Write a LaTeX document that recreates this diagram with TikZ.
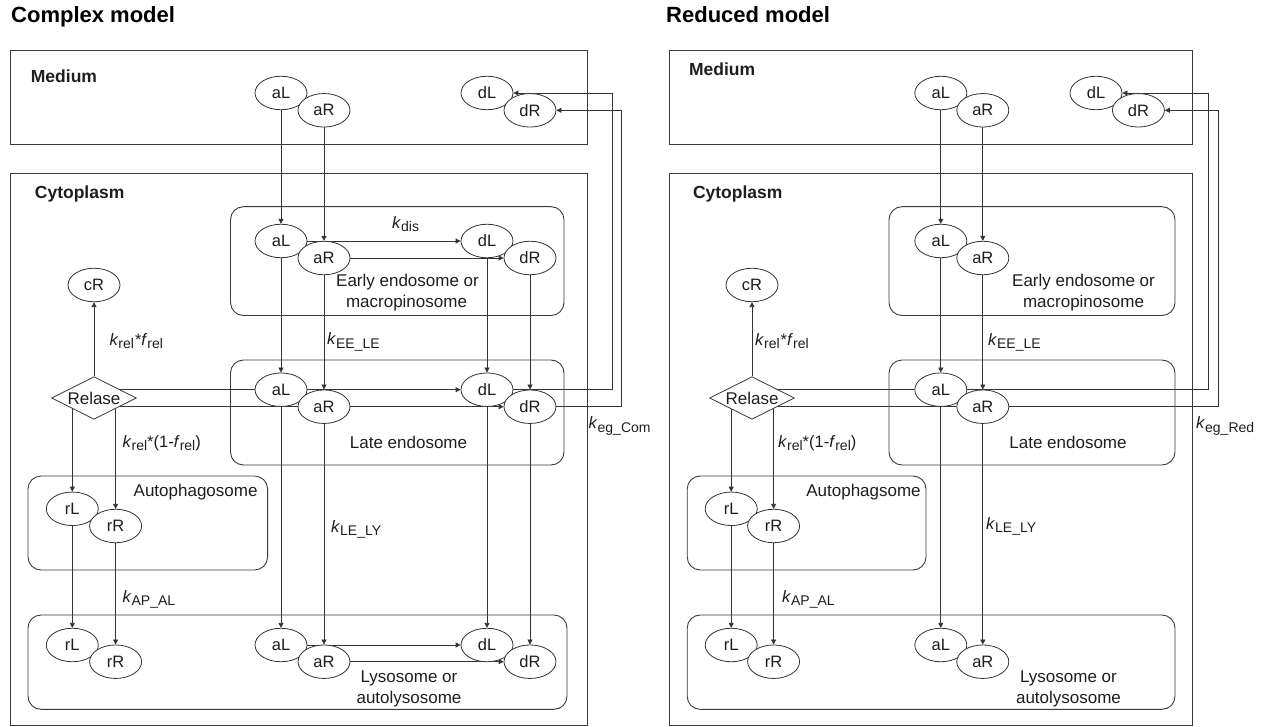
\documentclass[tikz,border=0pt]{standalone}
\usepackage{fontspec}
\setmainfont{Liberation Sans}
\usetikzlibrary{arrows.meta,shapes.geometric}
\pgfdeclarelayer{bg}
\pgfsetlayers{bg,main}
\definecolor{lnc}{HTML}{333333}
\definecolor{bxc}{HTML}{3A3A3A}
\definecolor{txc}{HTML}{1E1E1E}
\newcommand{\kSub}[1]{\textit{k}\raisebox{-3.5pt}{\fontsize{14}{14}\selectfont #1}}
\newcommand{\fSub}[1]{\textit{f}\raisebox{-3.5pt}{\fontsize{14}{14}\selectfont #1}}
\tikzset{
  px/.style={x=1pt,y=-1pt},
  sp/.style={ellipse, draw=lnc, fill=white, line width=0.8pt, minimum width=52pt, minimum height=33.5pt, inner sep=0pt, text=txc, font=\fontsize{16.5}{18}\selectfont},
  dia/.style={diamond, draw=lnc, fill=white, line width=0.8pt, aspect=2, minimum width=85pt, minimum height=42.6pt, inner sep=0pt, text=txc, font=\fontsize{17}{18}\selectfont},
  arr/.style={draw=lnc, line width=0.8pt, -{Triangle[length=5pt,width=5pt]}},
  plain/.style={draw=lnc, line width=0.8pt},
  box/.style={draw=bxc, line width=0.9pt},
  rbox/.style={box, rounded corners=13pt},
  lbl/.style={inner sep=0pt, anchor=base, text=txc, font=\fontsize{17}{20}\selectfont},
  klbl/.style={inner sep=0pt, anchor=base west, text=txc, font=\fontsize{16.5}{20}\selectfont},
  blbl/.style={inner sep=0pt, anchor=base west, text=txc, font=\fontsize{17.5}{20}\selectfont\bfseries},
  ttl/.style={inner sep=0pt, anchor=base west, text=black, font=\fontsize{22}{24}\selectfont\bfseries}
}
\begin{document}
\begin{tikzpicture}[px]
\useasboundingbox (0,0) rectangle (1266,727);
% titles
\node[ttl] (Ltitle) at (11,22.5) {Complex model};
\node[ttl] (Rtitle) at (666,22.5) {Reduced model};

% ================= LEFT PANEL =================
\draw[box] (10,50) rectangle (587,144);
\draw[box] (10,173.3) rectangle (587,725.7);
\draw[rbox] (230.5,206.7) rectangle (564,315.5);
\draw[rbox] (230.5,360) rectangle (564,465);
\draw[rbox] (28,476) rectangle (267.6,570);
\draw[rbox] (28,615) rectangle (567,709.3);

\node[blbl] (LMed) at (30.7,83) {Medium};
\node[blbl] (LCyt) at (34.7,198.7) {Cytoplasm};
\node[lbl] (LEE1) at (407.5,287) {Early endosome or};
\node[lbl] (LEE2) at (406.5,308) {macropinosome};
\node[lbl] (LLE) at (408.5,448) {Late endosome};
\node[lbl] (LAP) at (195.6,496.5) {Autophagosome};
\node[lbl] (LLY1) at (409,682.8) {Lysosome or};
\node[lbl] (LLY2) at (409,703) {autolysosome};

\node[sp] (LmAL) at (281,93) {aL};
\node[sp] (LmAR) at (324,110.3) {aR};
\node[sp] (LmDL) at (487,93) {dL};
\node[sp] (LmDR) at (530,110.3) {dR};
\node[sp] (LeAL) at (281,241) {aL};
\node[sp] (LeAR) at (324,258) {aR};
\node[sp] (LeDL) at (487,241) {dL};
\node[sp] (LeDR) at (530,258) {dR};
\node[sp] (LlAL) at (281,389.7) {aL};
\node[sp] (LlAR) at (324,406.7) {aR};
\node[sp] (LlDL) at (487,389.7) {dL};
\node[sp] (LlDR) at (530,406.7) {dR};
\node[sp] (LyAL) at (281,645) {aL};
\node[sp] (LyAR) at (324,661.7) {aR};
\node[sp] (LyDL) at (487,645) {dL};
\node[sp] (LyDR) at (530,661.7) {dR};
\node[sp] (LcR) at (94,285) {cR};
\node[dia] (Lrel) at (94,398) {Relase};
\node[sp] (LarL) at (72.3,508.8) {rL};
\node[sp] (LarR) at (115.6,526) {rR};
\node[sp] (LyrL) at (72.3,645) {rL};
\node[sp] (LyrR) at (115.6,661.7) {rR};

\node[klbl] (Lkdis) at (392,228.5) {\kSub{dis}};
\node[klbl] (LkEE) at (327,344.5) {\kSub{EE\_LE}};
\node[klbl] (Lkrf) at (109.3,345) {\kSub{rel}\hspace{1pt}*\fSub{rel}};
\node[klbl] (Lkr1) at (122.5,447) {\kSub{rel}*(1-\fSub{rel})};
\node[klbl] (Lkeg) at (588.5,428.5) {\kSub{eg\_Com}};
\node[klbl] (LkLE) at (331,532) {\kSub{LE\_LY}};
\node[klbl] (LkAP) at (122.5,602) {\kSub{AP\_AL}};

\coordinate (Lx1) at (612.7,0);
\coordinate (Lx2) at (621.7,0);

\begin{pgfonlayer}{bg}
\draw[arr] (LmAL) -- (LeAL);
\draw[arr] (LmAR) -- (LeAR);
\draw[arr] (LeAL) -- (LeDL);
\draw[arr] (LeAR) -- (LeDR);
\draw[arr] (LeAL) -- (LlAL);
\draw[arr] (LeAR) -- (LlAR);
\draw[arr] (LeDL) -- (LlDL);
\draw[arr] (LeDR) -- (LlDR);
\draw[arr] (LlAL) -- (LlDL);
\draw[arr] (LlAR) -- (LlDR);
\draw[arr] (LlAL) -- (LyAL);
\draw[arr] (LlAR) -- (LyAR);
\draw[arr] (LlDL) -- (LyDL);
\draw[arr] (LlDR) -- (LyDR);
\draw[arr] (LyAL) -- (LyDL);
\draw[arr] (LyAR) -- (LyDR);
\draw[arr] (LlDL.east) -- (LlDL.east -| Lx1) -- (LmDL.east -| Lx1) -- (LmDL.east);
\draw[arr] (LlDR.east) -- (LlDR.east -| Lx2) -- (LmDR.east -| Lx2) -- (LmDR.east);
\draw[plain] (LlAL.west) -- (LlAL.west -| Lrel.center);
\draw[plain] (LlAR.west) -- (LlAR.west -| Lrel.center);
\draw[arr] (Lrel) -- (LcR);
\draw[arr] (LarL.north |- Lrel.center) -- (LarL.north);
\draw[arr] (LarR.north |- Lrel.center) -- (LarR.north);
\draw[arr] (LarL) -- (LyrL);
\draw[arr] (LarR) -- (LyrR);
\end{pgfonlayer}

% ================= RIGHT PANEL =================
\draw[box] (669.5,50) rectangle (1192,144);
\draw[box] (669.5,173.3) rectangle (1192,725.7);
\draw[rbox] (889,206.7) rectangle (1175,315.5);
\draw[rbox] (889,360) rectangle (1175,465);
\draw[rbox] (687.2,476) rectangle (926,570);
\draw[rbox] (687.2,615) rectangle (1175,709.3);

\node[blbl] (RMed) at (688.8,76) {Medium};
\node[blbl] (RCyt) at (692.8,198.7) {Cytoplasm};
\node[lbl] (REE1) at (1083.5,287) {Early endosome or};
\node[lbl] (REE2) at (1083.5,308) {macropinosome};
\node[lbl] (RLE) at (1068,448) {Late endosome};
\node[lbl] (RAP) at (863.5,496.5) {Autophagsome};
\node[lbl] (RLY1) at (1068.5,682.8) {Lysosome or};
\node[lbl] (RLY2) at (1068.5,703) {autolysosome};

\node[sp] (RmAL) at (940.8,93) {aL};
\node[sp] (RmAR) at (982.8,110.3) {aR};
\node[sp] (RmDL) at (1096,93) {dL};
\node[sp] (RmDR) at (1138.4,110.3) {dR};
\node[sp] (ReAL) at (940.8,241) {aL};
\node[sp] (ReAR) at (982.8,258) {aR};
\node[sp] (RlAL) at (940.8,389.7) {aL};
\node[sp] (RlAR) at (982.8,406.7) {aR};
\node[sp] (RyAL) at (940.8,645) {aL};
\node[sp] (RyAR) at (982.8,661.7) {aR};
\node[sp] (RcR) at (752,285) {cR};
\node[dia] (Rrel) at (752,398) {Relase};
\node[sp] (RarL) at (731.2,508.8) {rL};
\node[sp] (RarR) at (773.6,526) {rR};
\node[sp] (RyrL) at (731.2,645) {rL};
\node[sp] (RyrR) at (773.6,661.7) {rR};

\node[klbl] (RkEE) at (988,345) {\kSub{EE\_LE}};
\node[klbl] (Rkrf) at (755,345) {\kSub{rel}\hspace{1pt}*\fSub{rel}};
\node[klbl] (Rkr1) at (778,447) {\kSub{rel}*(1-\fSub{rel})};
\node[klbl] (Rkeg) at (1196,428.5) {\kSub{eg\_Red}};
\node[klbl] (RkLE) at (986,529) {\kSub{LE\_LY}};
\node[klbl] (RkAP) at (782,602) {\kSub{AP\_AL}};

\coordinate (Rx1) at (1208.8,0);
\coordinate (Rx2) at (1218,0);

\begin{pgfonlayer}{bg}
\draw[arr] (RmAL) -- (ReAL);
\draw[arr] (RmAR) -- (ReAR);
\draw[arr] (ReAL) -- (RlAL);
\draw[arr] (ReAR) -- (RlAR);
\draw[arr] (RlAL) -- (RyAL);
\draw[arr] (RlAR) -- (RyAR);
\draw[arr] (RlAL.east) -- (RlAL.east -| Rx1) -- (RmDL.east -| Rx1) -- (RmDL.east);
\draw[arr] (RlAR.east) -- (RlAR.east -| Rx2) -- (RmDR.east -| Rx2) -- (RmDR.east);
\draw[plain] (RlAL.west) -- (RlAL.west -| Rrel.center);
\draw[plain] (RlAR.west) -- (RlAR.west -| Rrel.center);
\draw[arr] (Rrel) -- (RcR);
\draw[arr] (RarL.north |- Rrel.center) -- (RarL.north);
\draw[arr] (RarR.north |- Rrel.center) -- (RarR.north);
\draw[arr] (RarL) -- (RyrL);
\draw[arr] (RarR) -- (RyrR);
\end{pgfonlayer}
\end{tikzpicture}
\end{document}
